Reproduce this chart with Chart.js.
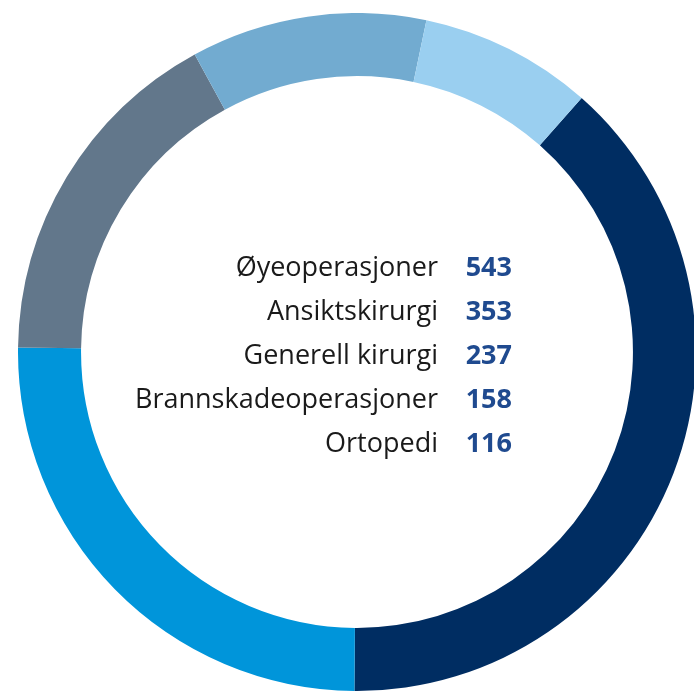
<!DOCTYPE html>
<html lang="no">
  <head>
    <meta charset="UTF-8">
    <script src="https://cdn.jsdelivr.net/npm/chart.js@4.4.1/dist/chart.umd.min.js"></script>
    <style>
      html, body {
        margin: 0;
        padding: 0;
        width: 694px;
        height: 691px;
        overflow: hidden;
        background: #FFFFFF;
      }
      .chart-box {
        position: absolute;
        left: 18px;
        top: 13px;
        width: 678px;
        height: 678px;
      }
    </style>
  </head>
  <body>
    <div class="chart-box">
      <canvas id="operasjonerChart"></canvas>
    </div>

    <script>
      // Antall operasjoner per type
      const kategorier = ['Øyeoperasjoner', 'Ansiktskirurgi', 'Generell kirurgi', 'Brannskadeoperasjoner', 'Ortopedi'];
      const antall = [543, 353, 237, 158, 116];
      const farger = ['#002D62', '#0095DA', '#62778B', '#72ABD0', '#9ACFF0'];

      // Tekst i midten av ringen
      const senterTekst = {
        id: 'senterTekst',
        afterDraw(chart) {
          const ctx = chart.ctx;
          const arc = chart.getDatasetMeta(0).data[0];
          const cx = arc.x;
          const cy = arc.y;
          ctx.save();
          ctx.textBaseline = 'alphabetic';
          ctx.textAlign = 'right';
          kategorier.forEach((navn, i) => {
            const y = cy - 76 + i * 44;
            ctx.font = '27px "Open Sans"';
            ctx.fillStyle = '#1A1A1A';
            ctx.fillText(navn, cx + 81, y);
            ctx.font = 'bold 27px "Open Sans"';
            ctx.fillStyle = '#1F4A8F';
            ctx.fillText(String(antall[i]), cx + 155, y);
          });
          ctx.restore();
        }
      };

      const ctx1 = document.getElementById('operasjonerChart').getContext('2d');
      const operasjonerChart = new Chart(ctx1, {
        type: 'doughnut',
        data: {
          labels: kategorier,
          datasets: [{
            data: antall,
            backgroundColor: farger,
            borderWidth: 0
          }]
        },
        options: {
          responsive: true,
          maintainAspectRatio: false,
          animation: false,
          cutout: '81.4%',
          rotation: 41.5,
          layout: { padding: 0 },
          plugins: {
            legend: { display: false },
            tooltip: { enabled: false }
          }
        },
        plugins: [senterTekst]
      });
    </script>
  </body>
</html>
